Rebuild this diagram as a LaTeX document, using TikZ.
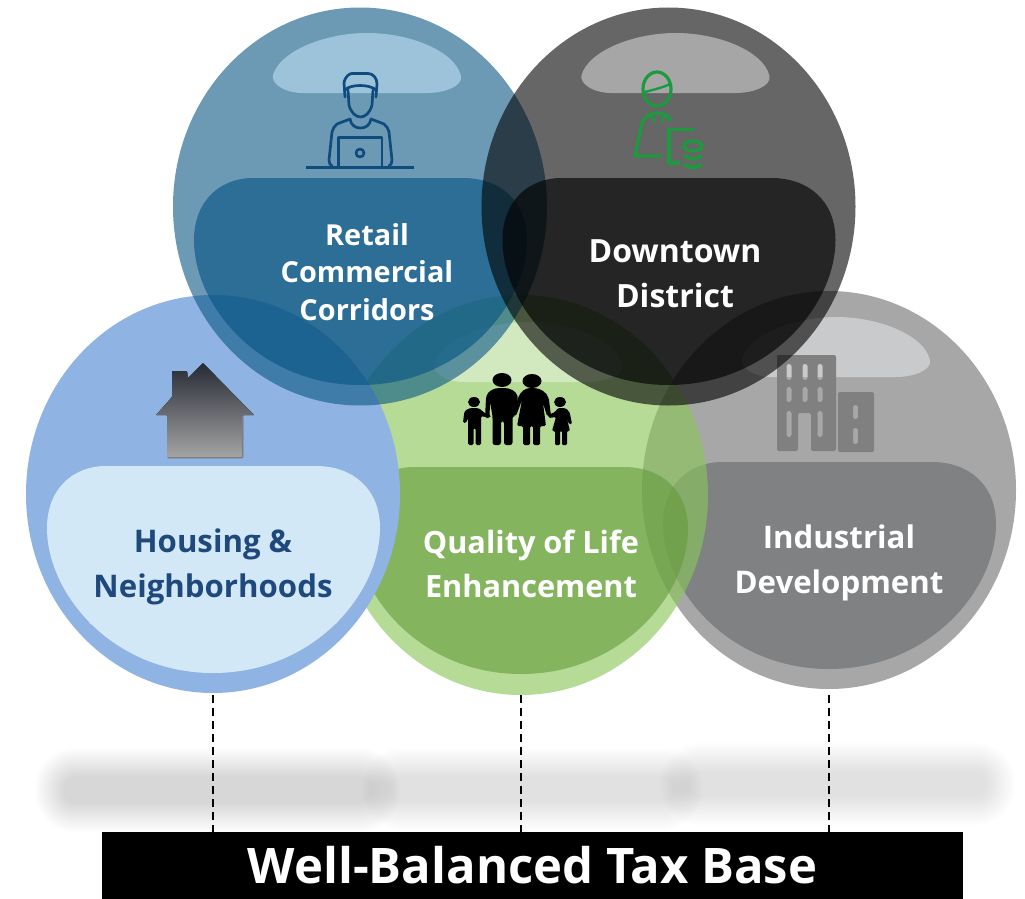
\documentclass[tikz,border=0pt]{standalone}
\usepackage{fontspec}
\setmainfont{Open Sans}
\usetikzlibrary{shapes.geometric}
\definecolor{retailC}{RGB}{10,87,132}
\definecolor{retailH}{RGB}{204,236,255}
\definecolor{housingC}{RGB}{143,180,227}
\definecolor{housingB}{RGB}{210,232,246}
\definecolor{housingT}{RGB}{31,73,125}
\definecolor{greenC}{RGB}{138,198,90}
\definecolor{greenB}{RGB}{100,155,58}
\definecolor{greyC}{RGB}{167,167,168}
\definecolor{greyB}{RGB}{127,129,131}
\definecolor{greyH}{RGB}{201,202,204}
\definecolor{laptopC}{RGB}{15,75,125}
\definecolor{workerC}{RGB}{27,154,62}
\definecolor{houseTop}{RGB}{38,42,52}
\definecolor{houseBot}{RGB}{165,165,165}
\definecolor{houseEdge}{RGB}{125,125,125}
\definecolor{buildC}{RGB}{128,128,128}
\newcommand{\blobshape}{(-166,34) .. controls (-166,-5) and (-140,-28) .. (-107,-28) -- (103,-28) .. controls (140,-28) and (167,-5) .. (167,34) .. controls (167,100) and (100,179) .. (0,179) .. controls (-100,179) and (-166,100) .. (-166,34) -- cycle}
\newcommand{\domeshape}{(-87,-131) .. controls (-80,-155) and (-35,-173) .. (7,-173) .. controls (50,-173) and (95,-155) .. (101,-130) .. controls (103,-120) and (85,-113) .. (67,-113) -- (-57,-113) .. controls (-75,-113) and (-89,-122) .. (-87,-131) -- cycle}
\tikzset{
  bubble/.style={ellipse,minimum width=374pt,minimum height=398pt,inner sep=0pt,outer sep=0pt},
  lbl/.style={text=white,align=center,font=\bfseries\fontsize{#1}{#1}\selectfont},
  tie/.style={draw=black,line width=1.1pt,dash pattern=on 8pt off 5pt},
  shadowbit/.style={fill=black,fill opacity=0.008}
}
\begin{document}
\begin{tikzpicture}[x=1pt,y=-1pt]
\useasboundingbox (0,0) rectangle (1025,899);
\fill[white] (0,0) rectangle (1025,899);
% shadows
\foreach \i in {0,...,19}{
  \fill[shadowbit,rounded corners={(40.5-1.5*\i)*1pt}] ({35+1.5*\i},{748+1.5*\i}) rectangle ({400-1.5*\i},{832-1.5*\i});
}
\foreach \i in {0,...,14}{
  \fill[shadowbit,rounded corners={(39.5-2*\i)*1pt}] ({362+2*\i},{748+2*\i}) rectangle ({702-2*\i},{830-2*\i});
}
\foreach \i in {0,...,14}{
  \fill[shadowbit,rounded corners={(39.5-2*\i)*1pt}] ({660+2*\i},{743+2*\i}) rectangle ({1015-2*\i},{825-2*\i});
}
% grey bubble
\node[bubble,fill=greyC] (industrial) at (829,490) {};
\fill[greyB,shift={(829,490)}] \blobshape;
\fill[greyH,shift={(829,490)}] \domeshape;
\fill[buildC,even odd rule,rounded corners=2pt]
  (777,355) -- (836,355) -- (836,451) -- (811,451) -- (811,413) -- (798,413) -- (798,451) -- (777,451) -- cycle
  (786.5,364) rectangle (791.5,380) (802.5,364) rectangle (807.5,380) (817.5,364) rectangle (822.5,380)
  (786.5,387) rectangle (791.5,402) (802.5,387) rectangle (807.5,402) (817.5,387) rectangle (822.5,402)
  (786.5,411) rectangle (791.5,437) (817.5,411) rectangle (822.5,437);
\fill[buildC,even odd rule,rounded corners=2pt]
  (838,392) rectangle (874,452)
  (853,405) rectangle (858,419)
  (853,428) rectangle (858,444);
\node[lbl=31.2] (industrialT) at (839,563) {Industrial\\[13.5pt]Development};
% green bubble
\node[bubble,minimum height=400pt,fill=greenC,fill opacity=0.63] (quality) at (521,495) {};
\fill[greenB,fill opacity=0.6,shift={(521,495)}] \blobshape;
\fill[white,fill opacity=0.4,shift={(521,495)}] \domeshape;
% family
\fill[black] (502,380) ellipse [x radius=9.5,y radius=7];
\fill[black] (532,381) ellipse [x radius=9.5,y radius=7];
\fill[black] (474,402) ellipse [x radius=6,y radius=5];
\fill[black] (560,402) ellipse [x radius=6,y radius=5];
% father
\fill[black,rounded corners=2.5pt] (485,418) -- (486,398) .. controls (488,391) and (494,388) .. (502,388) .. controls (510,388) and (516,391) .. (518,398) -- (516,416) -- (512.5,416) -- (512.5,445) -- (504,445) -- (504,421) -- (501,421) -- (501,445) -- (492.5,445) -- (492.5,416) -- (490,402) -- (489.5,418) -- cycle;
% mother
\fill[black,rounded corners=1.5pt] (517,426) -- (522,400) -- (516,416) -- (514,414) -- (518,398) .. controls (521,391) and (526,388) .. (532,388) .. controls (540,388) and (547,392) .. (549,400) -- (551,416) -- (547,416) -- (543,403) -- (546,426) -- (540,426) -- (540,445) -- (533,445) -- (533,426) -- (530,426) -- (530,445) -- (523,445) -- (523,426) -- cycle;
% boy
\fill[black,rounded corners=1.5pt] (463,423) -- (464,414) .. controls (465,410) and (469,408) .. (474,408) .. controls (479,408) and (482,410) .. (484,413) -- (491,415) -- (490,418) -- (481,416) -- (481,445) -- (475.5,445) -- (475.5,428) -- (473.5,428) -- (473.5,445) -- (468,445) -- (468,418) -- (466,423) -- cycle;
% girl
\fill[black,rounded corners=1.2pt] (552,431) -- (556,417) -- (549,418) -- (548,415) -- (555,412) .. controls (557,409) and (558,408) .. (561,408) .. controls (566,408) and (569,410) .. (570,414) -- (572,424) -- (569,424) -- (566.5,417) -- (570,431) -- (567,431) -- (567,445) -- (562,445) -- (562,431) -- (560,431) -- (560,445) -- (555,445) -- (555,431) -- cycle;
\node[lbl=30.7] (qualityT) at (531,564) {Quality of Life\\[13.5pt]Enhancement};
% housing bubble
\node[bubble,fill=housingC] (housing) at (213,494) {};
\fill[housingB,shift={(213,494)}] \blobshape;
\fill[housingB] (89.5,612) -- (89.5,623.5) -- (98,624.5) -- (110,612) -- cycle;
\fill[housingB] (336.5,612) -- (336.5,623.5) -- (328,624.5) -- (316,612) -- cycle;
\fill[top color=houseTop,bottom color=houseBot,rounded corners=0.6pt]
  (203,363) -- (254,415) -- (243,415) -- (243,458) -- (167,458) -- (167,415) -- (156,415) -- (172,397) -- (172,371) -- (187,371) -- (188,378) -- cycle;
\draw[houseEdge,line width=1.4pt] (167.5,457.5) -- (242.5,457.5) -- (242.5,416);
\node[lbl=31.2,text=housingT] (housingT) at (213,567) {Housing \&\\[13.5pt]Neighborhoods};
% retail bubble
\node[bubble,fill=retailC,fill opacity=0.6] (retail) at (360,206.5) {};
\fill[retailC,fill opacity=0.65,shift={(360,206)}] \blobshape;
\fill[retailH,fill opacity=0.5,shift={(360,206)}] \domeshape;
\begin{scope}[draw=laptopC,line width=2.7pt,line join=round,line cap=round]
  \draw[line width=3pt,line cap=butt] (306,167) -- (414,167);
  \draw (338.5,166) -- (338.5,137.5) -- (382,137.5) -- (382,166);
  \draw (360,153) circle [radius=4];
  \draw (345,97) -- (344,83) .. controls (345,76) and (350,73.5) .. (352,73.5) -- (368,73.5) .. controls (373,73.5) and (377,78) .. (377,84) -- (376,97);
  \draw (345,90) .. controls (350,84) and (370,84) .. (376,90);
  \draw (348,90) -- (349,105) .. controls (351,113) and (356,117) .. (360.5,117) .. controls (365,117) and (370,113) .. (372,105) -- (373,90);
  \draw (350,119) .. controls (351,125) and (355,128) .. (360.5,128) .. controls (366,128) and (370,125) .. (371,119);
  \draw (350,119) -- (337,124) .. controls (334,126) and (333,129) .. (332,132) -- (329,160) .. controls (329,163) and (330,165) .. (332,166);
  \draw (371,119) -- (384,124) .. controls (387,126) and (388,129) .. (389,132) -- (392,160) .. controls (392,163) and (391,165) .. (389,166);
\end{scope}
\node[lbl=28.9] (retailT) at (367,272) {Retail\\[8.6pt]Commercial\\[8.6pt]Corridors};
% downtown bubble
\node[bubble,fill=black,fill opacity=0.6] (downtown) at (668.5,206.5) {};
\fill[black,fill opacity=0.63,shift={(668.5,206)}] \blobshape;
\fill[white,fill opacity=0.42,shift={(668.5,206)}] \domeshape;
\begin{scope}[draw=workerC,line width=3.2pt,line join=round,line cap=round]
  \draw (657,89) ellipse [x radius=14,y radius=17];
  \draw[line width=2.4pt] (645,92) .. controls (652,90) and (662,88) .. (670,84);
  \draw (671,120) .. controls (667,115) and (662,113) .. (657,113) .. controls (651,113) and (645,116) .. (642,123) -- (635,156) -- (660,156);
  \draw[line width=2.4pt] (651,115) -- (655,122) (665,115) -- (662,122);
  \draw (693,129.5) -- (669,129.5) -- (669,163) -- (679,163);
  \draw (693,146) ellipse [x radius=9,y radius=5];
  \draw (685,156) .. controls (690,160) and (696,160) .. (701,156);
  \draw[line width=3.8pt] (685,165) .. controls (690,168) and (696,168) .. (701,165);
\end{scope}
\node[lbl=32] (downtownT) at (675,274) {Downtown\\[13pt]District};
% bar and ties
\node[rectangle,fill=black,minimum width=861pt,minimum height=67pt,inner sep=0pt,outer sep=0pt,
  text=white,font=\bfseries\fontsize{49}{49}\selectfont] (bar) at (532.5,865.5) {Well-Balanced Tax Base};
\coordinate (tieH) at (213,695);
\coordinate (tieQ) at (521,695);
\coordinate (tieI) at (829,695);
\draw[tie] (tieH) -- (tieH |- bar.north);
\draw[tie] (tieQ) -- (tieQ |- bar.north);
\draw[tie] (tieI) -- (tieI |- bar.north);
\end{tikzpicture}
\end{document}
